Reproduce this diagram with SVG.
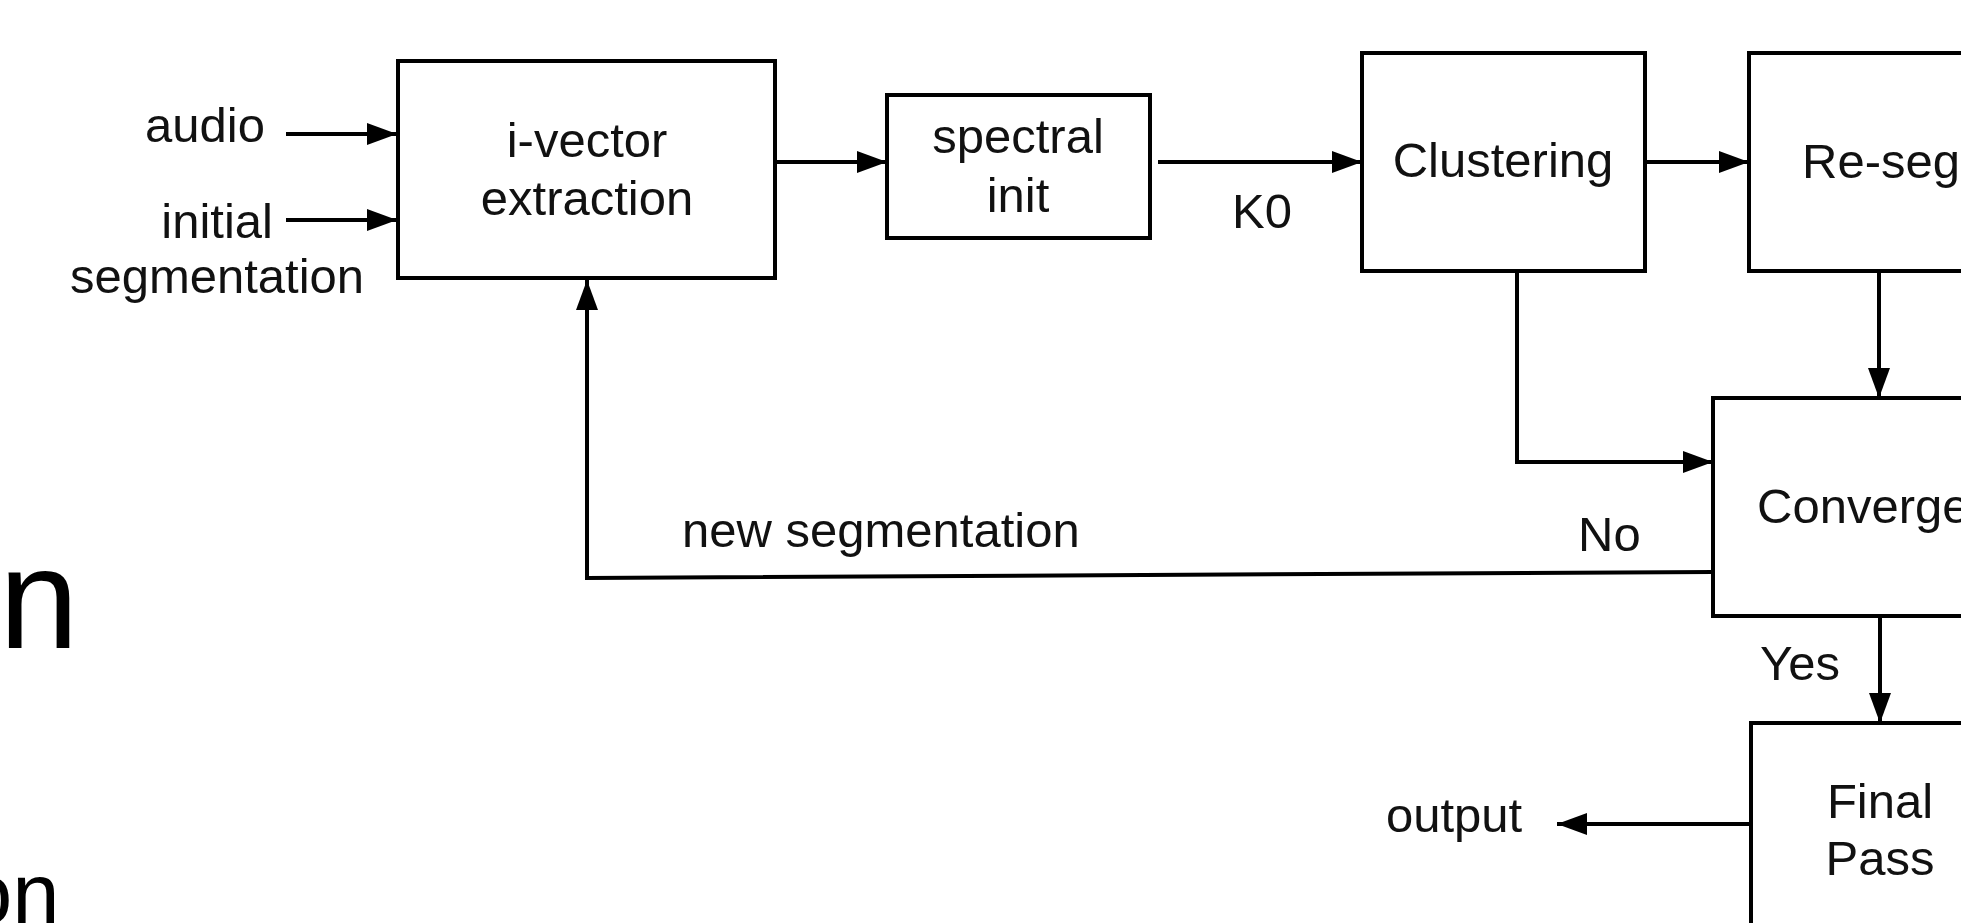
<svg xmlns="http://www.w3.org/2000/svg" width="1961" height="923" viewBox="0 0 1961 923">
<style>
.box{fill:#fff;stroke:#000;stroke-width:4}
.t{font-family:"Liberation Sans",Arial,sans-serif;font-size:49px;fill:#111}
.m{text-anchor:middle}
.e{text-anchor:end}
.c{fill:none;stroke:#000;stroke-width:4}
.big{font-family:"Liberation Sans",Arial,sans-serif;fill:#000}
</style>
<defs>
<marker id="ah" markerUnits="userSpaceOnUse" markerWidth="30" markerHeight="22" refX="30" refY="11" orient="auto">
<path d="M0,0 L30,11 L0,22 z" fill="#000"/>
</marker>
</defs>
<rect width="1961" height="923" fill="#fff"/>
<text class="big" x="-1" y="648" font-size="143">n</text>
<text class="big" x="-35" y="923" font-size="85">on</text>
<g id="labels">
<text class="t e" x="265" y="142">audio</text>
<text class="t e" x="273" y="238">initial</text>
<text class="t m" x="217" y="293">segmentation</text>
<text class="t" x="1232" y="228">K0</text>
<text class="t" x="682" y="547">new segmentation</text>
<text class="t" x="1578" y="551">No</text>
<text class="t" x="1760" y="680">Yes</text>
<text class="t" x="1386" y="832">output</text>
</g>
<g id="ivector">
<rect class="box" x="398" y="61" width="377" height="217"/>
<text class="t m" x="587" y="157">i-vector</text>
<text class="t m" x="587" y="215">extraction</text>
</g>
<g id="spectral">
<rect class="box" x="887" y="95" width="263" height="143"/>
<text class="t m" x="1018" y="153">spectral</text>
<text class="t m" x="1018" y="212">init</text>
</g>
<g id="clustering">
<rect class="box" x="1362" y="53" width="283" height="218"/>
<text class="t m" x="1503" y="177">Clustering</text>
</g>
<g id="resegmentation">
<rect class="box" x="1749" y="53" width="300" height="218"/>
<text class="t" x="1802" y="178">Re-seg</text>
</g>
<g id="converge">
<rect class="box" x="1713" y="398" width="300" height="218"/>
<text class="t" x="1757" y="523">Converge</text>
</g>
<g id="finalpass">
<rect class="box" x="1751" y="723" width="300" height="260"/>
<text class="t m" x="1880" y="818">Final</text>
<text class="t m" x="1880" y="875">Pass</text>
</g>
<g id="connectors">
<line class="c" x1="286" y1="134" x2="397" y2="134" marker-end="url(#ah)"/>
<line class="c" x1="286" y1="220" x2="397" y2="220" marker-end="url(#ah)"/>
<line class="c" x1="775" y1="162" x2="887" y2="162" marker-end="url(#ah)"/>
<line class="c" x1="1158" y1="162" x2="1362" y2="162" marker-end="url(#ah)"/>
<line class="c" x1="1645" y1="162" x2="1749" y2="162" marker-end="url(#ah)"/>
<line class="c" x1="1879" y1="271" x2="1879" y2="398" marker-end="url(#ah)"/>
<polyline class="c" points="1517,271 1517,462 1713,462" marker-end="url(#ah)"/>
<polyline class="c" points="1713,572 587,578 587,280" marker-end="url(#ah)"/>
<line class="c" x1="1880" y1="616" x2="1880" y2="723" marker-end="url(#ah)"/>
<line class="c" x1="1751" y1="824" x2="1557" y2="824" marker-end="url(#ah)"/>
</g>
</svg>
